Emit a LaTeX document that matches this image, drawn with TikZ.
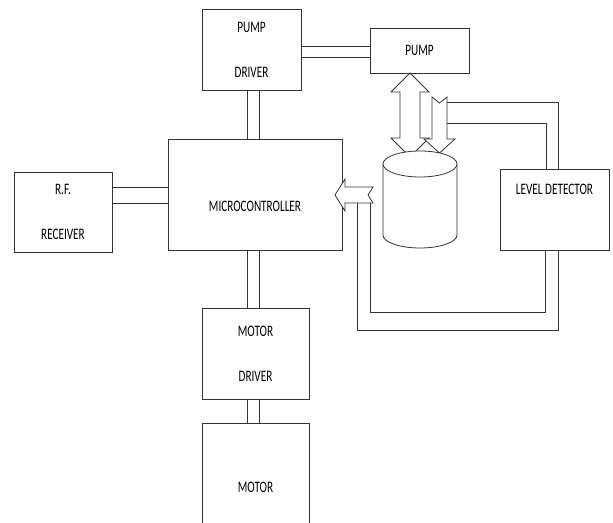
\documentclass[tikz,border=0pt]{standalone}
\usepackage{fontspec}
\setmainfont{Carlito}[FakeStretch=0.7]
\definecolor{ln}{gray}{0.2}
\newcommand\lbl{\fontsize{16pt}{18pt}\selectfont}

\begin{document}
\begin{tikzpicture}[x=1pt, y=-1pt,
  box/.style={draw=ln, line width=0.8pt, inner sep=0pt, align=center, font=\lbl, fill=white},
  wire/.style={draw=ln, line width=0.8pt},
  blk/.style={draw=ln, line width=0.8pt, fill=white, line join=miter},
  txt/.style={font=\lbl, anchor=center}
]
\def\gap{27pt}
\clip (0,0) rectangle (613,522);
% blocks
\node[box, minimum width=99pt, minimum height=81pt] (pdrv) at (251.5,49.5) {PUMP\\[\gap]DRIVER};
\node[box, minimum width=99pt, minimum height=45pt] (pump) at (419.5,50.5) {PUMP};
\node[box, minimum width=174pt, minimum height=111pt,
  label={[txt, yshift=-12pt]center:MICROCONTROLLER}] (mcu) at (255,194.5) {};
\node[box, minimum width=98pt, minimum height=80pt] (rf) at (63,212) {R.F.\\[\gap]RECEIVER};
\node[box, minimum width=109pt, minimum height=81pt,
  label={[txt, yshift=-21pt]north:LEVEL DETECTOR}] (lvl) at (554.5,209.5) {};
\node[box, minimum width=107pt, minimum height=91pt] (mdrv) at (255.5,353.5) {MOTOR\\[\gap]DRIVER};
\node[box, minimum width=107pt, minimum height=128pt] (motor) at (255.5,487) {MOTOR};
% buses
\draw[wire] (pdrv.east |- 0,46) -- (pump.west |- 0,46);
\draw[wire] (pdrv.east |- 0,57) -- (pump.west |- 0,57);
\draw[wire] (pdrv.south -| 247,0) -- (mcu.north -| 247,0);
\draw[wire] (pdrv.south -| 259,0) -- (mcu.north -| 259,0);
\draw[wire] (rf.east |- 0,187) -- (mcu.west |- 0,187);
\draw[wire] (rf.east |- 0,203) -- (mcu.west |- 0,203);
\draw[wire] (mcu.south -| 247,0) -- (mdrv.north -| 247,0);
\draw[wire] (mcu.south -| 259,0) -- (mdrv.north -| 259,0);
\draw[wire] (mdrv.south -| 247,0) -- (motor.north -| 247,0);
\draw[wire] (mdrv.south -| 259,0) -- (motor.north -| 259,0);
% block arrows and tank
\draw[blk] (410,73) -- (429,92) -- (420,92) -- (420,138) -- (429,138) -- (410,157)
  -- (391,138) -- (400,138) -- (400,92) -- (391,92) -- cycle;
\draw[blk] (432,97) -- (439.5,103) -- (447,97) -- (447,139) -- (455,139) -- (439.5,153)
  -- (424,139) -- (432,139) -- cycle;
\draw[blk] (383,164) -- (383,235) arc[start angle=180, end angle=360, x radius=37pt, y radius=13pt] -- (457,164);
\draw[blk] (420,164) ellipse[x radius=37pt, y radius=13pt];
\draw[blk] (335,195) -- (345,179) -- (345,187) -- (373,187) -- (368,195) -- (373,203)
  -- (345,203) -- (345,211) -- cycle;
\coordinate (lvA) at (447,102);
\coordinate (lvB) at (447,123);
\coordinate (fbA) at (370,203);
\coordinate (fbB) at (357,203);
% level detector lines
\draw[wire] (lvl.north -| 558,0) |- (lvA);
\draw[wire] (lvl.north -| 546,0) |- (lvB);
\draw[wire] (lvl.south -| 545,0) |- (fbA |- 0,312) -- (fbA);
\draw[wire] (lvl.south -| 558,0) |- (fbB |- 0,330) -- (fbB);
\end{tikzpicture}
\end{document}
